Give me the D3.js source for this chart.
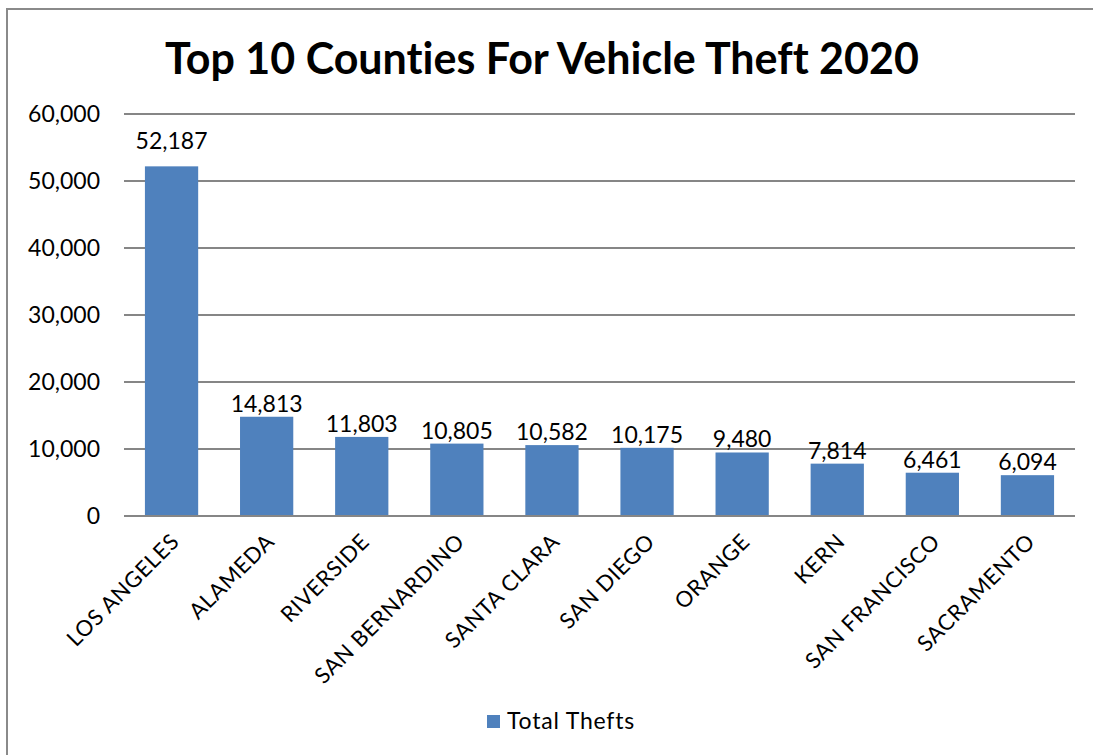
<!DOCTYPE html>
<html>
<head>
<meta charset="utf-8">
<script src="https://cdn.jsdelivr.net/npm/d3@7"></script>
<style>
  body { margin: 0; background: #fff; }
  text { font-family: Lato, "Open Sans", sans-serif; fill: #000; font-variant-ligatures: none; }
</style>
</head>
<body>
<div id="chart"></div>
<script>
// chart data
var counties = ["LOS ANGELES", "ALAMEDA", "RIVERSIDE", "SAN BERNARDINO", "SANTA CLARA",
                "SAN DIEGO", "ORANGE", "KERN", "SAN FRANCISCO", "SACRAMENTO"];
var thefts = [52187, 14813, 11803, 10805, 10582, 10175, 9480, 7814, 6461, 6094];
var yTicks = [0, 10000, 20000, 30000, 40000, 50000, 60000];
var seriesName = "Total Thefts";
var title = "Top 10 Counties For Vehicle Theft 2020";

var width = 1093,
    height = 755;

var margin = {top: 114, right: 18, bottom: 239, left: 124};
var plotW = width - margin.left - margin.right,
    plotH = height - margin.top - margin.bottom;

var svg = d3.select("#chart")
  .append("svg")
    .attr("width", width)
    .attr("height", height);

// outer chart border
svg.append("rect")
  .attr("x", 7).attr("y", 9)
  .attr("width", 1100).attr("height", 800)
  .attr("fill", "none")
  .attr("stroke", "#8a8a8a")
  .attr("stroke-width", 2);

svg.append("text")
  .attr("x", 542)
  .attr("y", 74)
  .attr("text-anchor", "middle")
  .style("font-size", "43px")
  .style("font-weight", "bold")
  .text(title);

var g = svg.append("g")
  .attr("transform", "translate(" + margin.left + "," + margin.top + ")");

var x = d3.scaleBand()
  .domain(counties)
  .range([0, plotW])
  .paddingInner(0.44)
  .paddingOuter(0.22);

var y = d3.scaleLinear()
  .domain([0, 60000])
  .range([plotH, 0]);

// gridlines
g.append("g")
  .selectAll("line")
  .data(yTicks)
  .enter()
  .append("line")
    .attr("x1", 0)
    .attr("x2", plotW)
    .attr("y1", function(d) { return y(d); })
    .attr("y2", function(d) { return y(d); })
    .attr("stroke", "#868686")
    .attr("stroke-width", 2);

// y axis labels
var yAxis = d3.axisLeft(y)
  .tickValues(yTicks)
  .tickFormat(d3.format(","))
  .tickSize(0)
  .tickPadding(24);

g.append("g")
  .call(yAxis)
  .call(function(s) { s.select(".domain").remove(); })
  .selectAll("text")
    .style("font-size", "23px")
    .style("font-family", "Lato, sans-serif")
    .attr("fill", "#000");

// bars
g.selectAll(".bar")
  .data(thefts)
  .enter()
  .append("rect")
    .attr("class", "bar")
    .attr("x", function(d, i) { return x(counties[i]); })
    .attr("y", function(d) { return y(d); })
    .attr("width", x.bandwidth())
    .attr("height", function(d) { return plotH - y(d); })
    .attr("fill", "#4f81bd");

// value labels
g.selectAll(".val")
  .data(thefts)
  .enter()
  .append("text")
    .attr("class", "val")
    .attr("x", function(d, i) { return x(counties[i]) + x.bandwidth() / 2; })
    .attr("y", function(d, i) { return y(d) - (i === 0 ? 17 : 5); })
    .attr("text-anchor", "middle")
    .style("font-size", "23px")
    .text(function(d) { return d3.format(",")(d); });

// x axis baseline redrawn on top
g.append("line")
  .attr("x1", 0).attr("x2", plotW)
  .attr("y1", plotH).attr("y2", plotH)
  .attr("stroke", "#868686")
  .attr("stroke-width", 2);

// x axis labels
var xAxis = d3.axisBottom(x).tickSize(0).tickPadding(0);
g.append("g")
  .attr("transform", "translate(0," + plotH + ")")
  .call(xAxis)
  .call(function(s) { s.select(".domain").remove(); })
  .selectAll("text")
    .style("font-size", "22px")
    .style("letter-spacing", "0.6px")
    .style("font-family", "Lato, sans-serif")
    .attr("fill", "#000")
    .attr("y", 0)
    .attr("dy", 0)
    .attr("transform", "translate(9,27)rotate(-45)")
    .style("text-anchor", "end");

// legend
var legend = svg.append("g").attr("transform", "translate(487,715)");
legend.append("rect")
  .attr("width", 13).attr("height", 13)
  .attr("fill", "#4f81bd");
legend.append("text")
  .attr("x", 20)
  .attr("y", 14)
  .style("font-size", "23px")
  .style("letter-spacing", "0.8px")
  .text(seriesName);
</script>
</body>
</html>
